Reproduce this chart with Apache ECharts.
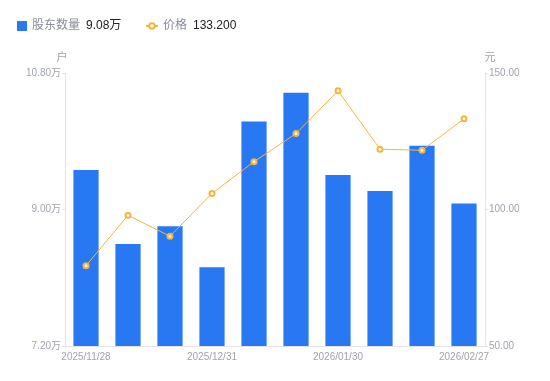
<!DOCTYPE html>
<html><head><meta charset="utf-8">
<script src="https://cdn.jsdelivr.net/npm/echarts@6/dist/echarts.min.js"></script>
<style>html,body{margin:0;padding:0;background:#fff}#c{width:550px;height:381px}</style>
</head><body><div id="c"></div>
<script>
const categories = ['2025/11/28','2025/12/10','2025/12/19','2025/12/31','2026/01/09','2026/01/20','2026/01/30','2026/02/10','2026/02/13','2026/02/27'];
const holders = [95200, 85450, 87800, 82400, 101600, 105400, 94550, 92450, 98400, 90800];
const prices = [79.4, 97.9, 90.2, 105.9, 117.5, 127.8, 143.5, 122.1, 121.7, 133.2];
const leftTicks = {min: 72000, max: 108000, interval: 18000};
const rightTicks = {min: 50, max: 150, interval: 50};

const chart = echarts.init(document.getElementById('c'), null, {renderer: 'canvas'});
const lastH = (holders[holders.length-1]/10000).toFixed(2) + '万';
const lastP = prices[prices.length-1].toFixed(3);
const font = 'Arial, "Liberation Sans", "Noto Sans CJK SC", sans-serif';
const legendText = {
  fontFamily: font,
  rich: {
    a: {color: '#888c99', fontSize: 12, fontFamily: font, padding: [0, 6, 0, 0]},
    b: {color: '#222', fontSize: 12, fontFamily: font}
  }
};
chart.setOption({
  animation: false,
  textStyle: {fontFamily: font},
  legend: [{
    left: 12, top: 15, itemWidth: 10, itemHeight: 10,
    data: [{name: '股东数量', icon: 'rect'}],
    formatter: n => '{a|' + n + '}{b|' + lastH + '}',
    textStyle: legendText
  }, {
    left: 140, top: 15, itemWidth: 12, itemHeight: 7, itemGap: 5,
    data: [{name: '价格'}],
    formatter: n => '{a|' + n + '}{b|' + lastP + '}',
    textStyle: legendText
  }],
  grid: {left: 65, right: 65, top: 73, bottom: 35},
  xAxis: {
    type: 'category', data: categories,
    axisLine: {lineStyle: {color: '#e4e4e8'}},
    axisTick: {show: false},
    axisLabel: {color: '#a0a3ae', fontSize: 10, interval: 2, margin: 6, fontFamily: font}
  },
  yAxis: [{
    type: 'value', name: '户', min: leftTicks.min, max: leftTicks.max, interval: leftTicks.interval,
    nameTextStyle: {color: '#a0a3ae', fontSize: 11, padding: [0, 0, 0, -6]},
    nameGap: 10,
    axisLine: {show: true, lineStyle: {color: '#e4e4e8'}},
    axisTick: {show: true, length: 3, lineStyle: {color: '#e4e4e8'}},
    splitLine: {show: false},
    axisLabel: {color: '#a0a3ae', fontSize: 10, margin: 4, formatter: v => (v/10000).toFixed(2) + '万'}
  }, {
    type: 'value', name: '元', min: rightTicks.min, max: rightTicks.max, interval: rightTicks.interval,
    nameTextStyle: {color: '#a0a3ae', fontSize: 11, padding: [0, 0, 0, 10]},
    nameGap: 10,
    axisLine: {show: true, lineStyle: {color: '#e4e4e8'}},
    axisTick: {show: true, length: 3, lineStyle: {color: '#e4e4e8'}},
    splitLine: {show: false},
    axisLabel: {color: '#a0a3ae', fontSize: 10, margin: 4, formatter: v => v.toFixed(2)}
  }],
  series: [{
    name: '股东数量', type: 'bar', data: holders, barWidth: '60%',
    itemStyle: {color: '#2778f2'}
  }, {
    name: '价格', type: 'line', yAxisIndex: 1, data: prices,
    symbol: 'emptyCircle', symbolSize: 5,
    lineStyle: {color: '#f9b43c', width: 1},
    itemStyle: {color: '#f9b43c', borderWidth: 2}
  }]
});
</script></body></html>
